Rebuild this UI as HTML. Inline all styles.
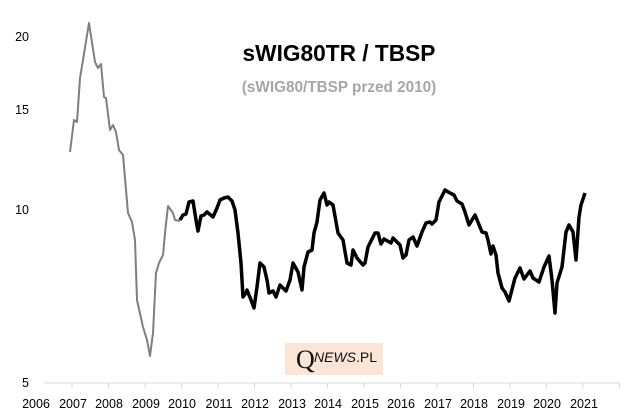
<!DOCTYPE html>
<html><head><style>
html,body{margin:0;padding:0;background:#fff;}
body{width:643px;height:416px;position:relative;overflow:hidden;font-family:"Liberation Sans",sans-serif;}
</style></head><body>
<svg width="643" height="416" viewBox="0 0 643 416" xmlns="http://www.w3.org/2000/svg" style="position:absolute;left:0;top:0">
<rect x="285" y="343" width="98" height="32" fill="#fbe5d6"/>
<text x="296" y="368" font-family="Liberation Serif,serif" font-size="26" fill="#111">Q</text>
<text x="314" y="362" font-family="Liberation Sans,sans-serif" font-size="14" font-style="italic" fill="#111">NEWS<tspan font-style="normal">.PL</tspan></text>
<line x1="44" y1="383" x2="620" y2="383" stroke="#d9d9d9" stroke-width="1"/>
<g stroke="#d9d9d9" stroke-width="1">
<line x1="72" y1="383" x2="72" y2="388"/><line x1="108.5" y1="383" x2="108.5" y2="388"/><line x1="145" y1="383" x2="145" y2="388"/><line x1="181.5" y1="383" x2="181.5" y2="388"/><line x1="218" y1="383" x2="218" y2="388"/><line x1="254.5" y1="383" x2="254.5" y2="388"/><line x1="291" y1="383" x2="291" y2="388"/><line x1="327.5" y1="383" x2="327.5" y2="388"/><line x1="364" y1="383" x2="364" y2="388"/><line x1="400.5" y1="383" x2="400.5" y2="388"/><line x1="437" y1="383" x2="437" y2="388"/><line x1="473.5" y1="383" x2="473.5" y2="388"/><line x1="510" y1="383" x2="510" y2="388"/><line x1="546.5" y1="383" x2="546.5" y2="388"/><line x1="583" y1="383" x2="583" y2="388"/><line x1="619.5" y1="383" x2="619.5" y2="388"/>
</g>
<g font-family="Liberation Sans,sans-serif" font-size="12.5" fill="#000" text-anchor="middle">
<text x="36" y="408">2006</text><text x="73" y="408">2007</text><text x="109" y="408">2008</text><text x="146" y="408">2009</text><text x="182" y="408">2010</text><text x="219" y="408">2011</text><text x="255" y="408">2012</text><text x="292" y="408">2013</text><text x="328" y="408">2014</text><text x="365" y="408">2015</text><text x="401" y="408">2016</text><text x="438" y="408">2017</text><text x="474" y="408">2018</text><text x="511" y="408">2019</text><text x="547" y="408">2020</text><text x="584" y="408">2021</text>
</g>
<g font-family="Liberation Sans,sans-serif" font-size="12.5" fill="#000" text-anchor="end">
<text x="29" y="41">20</text><text x="29" y="114">15</text><text x="29" y="214">10</text><text x="29" y="387">5</text>
</g>
<text x="339" y="61" text-anchor="middle" font-family="Liberation Sans,sans-serif" font-size="22.7" font-weight="bold" fill="#000">sWIG80TR / TBSP</text>
<text x="339" y="92" text-anchor="middle" font-family="Liberation Sans,sans-serif" font-size="15.3" font-weight="bold" fill="#a6a6a6">(sWIG80/TBSP przed 2010)</text>
<polyline fill="none" stroke="#7f7f7f" stroke-width="2" stroke-linejoin="round" points="70,152 74,120 77,122 80,78 83,60 89,23 95,62 98,68 101,64 104,97 106,98 110,130 113,125 116,132 119,150 123,155 128,213 132,222 135,240 137,300 143,327 147,340 150,356 153,333 156,273 159,263 163,255 165,233 168,206 173,213 175,220 180,221"/>
<polyline fill="none" stroke="#000" stroke-width="3.5" stroke-linejoin="round" points="180,220 183,215 186,214 189,202 193,201 196,220 198,231 201,216 204,215 207,212 213,217 217,208 220,200 224,198 228,197 232,201 235,210 238,233 241,263 243,297 246,293 247,290 251,300 254,308 257,287 260,263 264,267 267,280 269,293 273,291 276,297 280,285 286,291 290,280 293,263 298,272 302,290 304,267 308,252 312,250 314,233 317,222 320,200 324,193 327,205 329,202 333,205 338,233 343,240 347,263 351,265 353,250 357,258 363,265 365,263 368,247 375,233 378,233 381,244 384,239 391,243 393,238 400,245 403,258 406,255 409,240 413,237 417,246 422,232 426,223 430,222 432,224 436,220 439,202 445,190 450,193 454,195 457,201 462,204 465,212 469,225 475,215 482,232 486,233 488,240 491,254 493,246 496,255 498,273 502,288 505,292 509,301 515,278 520,268 524,279 530,271 533,278 539,282 544,267 549,256 552,280 555,313 557,283 562,267 566,232 569,225 573,232 576,260 579,217 581,205 585,193"/>
</svg>
</body></html>
